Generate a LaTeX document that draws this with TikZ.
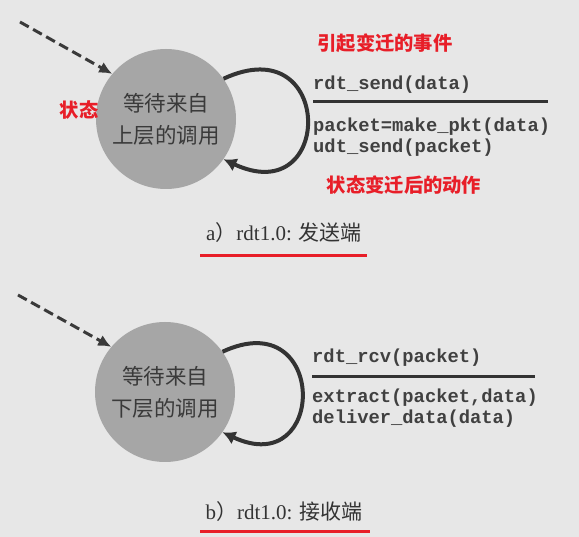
\documentclass[tikz,border=0pt]{standalone}
\usepackage{fontspec}
\setmainfont{Liberation Serif}
\newfontfamily\cjk{Noto Sans CJK SC}
\newfontfamily\codefont{Liberation Mono}
\usetikzlibrary{arrows.meta}

\definecolor{paper}{RGB}{231,231,231}
\definecolor{stategray}{RGB}{166,166,166}
\definecolor{inkgray}{RGB}{58,58,58}
\definecolor{notered}{RGB}{232,30,40}

\tikzset{
  state/.style={circle, fill=stategray, minimum size=140pt, inner sep=0pt, align=center,
    text=inkgray, font=\cjk\fontsize{21.5}{32}\selectfont},
  init/.style={>={Latex[length=13pt,width=12pt]}, ->, draw=inkgray, line width=3pt, dash pattern=on 10pt off 5pt},
  selfloop/.style={>={Latex[length=13pt,width=14pt]}, ->, draw=black!80, line width=4pt},
  code/.style={anchor=west, align=left, inner sep=0pt, text=black!75,
    font=\codefont\bfseries\fontsize{18.8}{21}\selectfont},
  note/.style={inner sep=0pt, text=notered, font=\cjk\bfseries\fontsize{19.3}{22}\selectfont},
  caption/.style={inner sep=0pt, text=black!80, font=\fontsize{21}{24}\selectfont},
  rule/.style={draw=black!80, line width=3pt},
  underline/.style={draw=notered, line width=3pt}
}

\begin{document}
\begin{tikzpicture}[x=1pt, y=1pt]

\fill[paper] (0,0) rectangle (579,-537);

% sender side
\node[state] (sa) at (166,-119) {等待来自\\上层的调用};
\coordinate (sa0) at (20,-22);
\draw[init] (sa0) -- (sa.140);
\draw[selfloop] (sa.35) to[out=25, in=-25, looseness=3.9] (sa.-35);

\node[note] (lbla) at (79,-110) {状态};
\node[note] (evta) at (385,-43) {引起变迁的事件};
\node[code] (ina) at (313,-85) {rdt\_send(data)};
\draw[rule] (313,-102) -- (548,-102);
\node[code] (outa) at (313,-137.5) {packet=make\_pkt(data)\\udt\_send(packet)};
\node[note] (acta) at (404,-185) {状态变迁后的动作};

\node[caption] (capa) at (284,-233) {a{\cjk ）}rdt1.0: {\cjk 发送端}};
\draw[underline] (200,-256) -- (367,-256);

% receiver side
\node[state] (sb) at (165,-392) {等待来自\\下层的调用};
\coordinate (sb0) at (18,-295);
\draw[init] (sb0) -- (sb.140);
\draw[selfloop] (sb.35) to[out=25, in=-25, looseness=3.7] (sb.-35);

\node[code] (inb) at (312,-358) {rdt\_rcv(packet)};
\draw[rule] (312,-377) -- (535,-377);
\node[code] (outb) at (312,-408) {extract(packet,data)\\deliver\_data(data)};

\node[caption] (capb) at (284,-512) {b{\cjk ）}rdt1.0: {\cjk 接收端}};
\draw[underline] (200,-532) -- (370,-532);

\end{tikzpicture}
\end{document}
